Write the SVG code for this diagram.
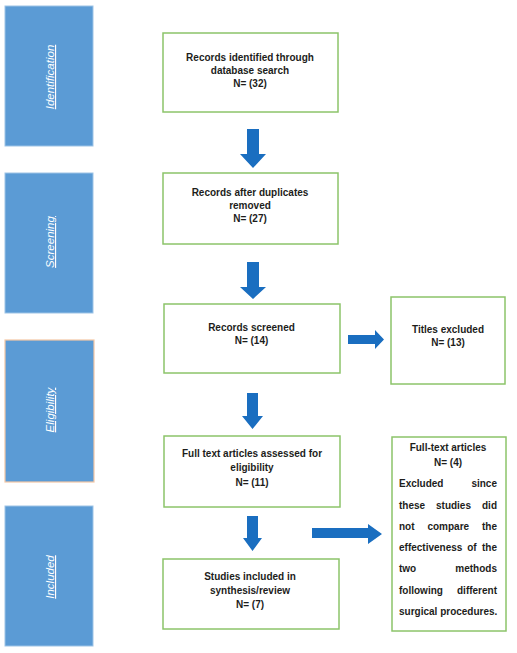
<svg xmlns="http://www.w3.org/2000/svg" width="517" height="653" viewBox="0 0 517 653">
<defs>
<style>
.stage{fill:#5b9bd5;stroke:#9dc3e6;stroke-width:1}
.stage-e{fill:#5b9bd5;stroke:#f4c7a5;stroke-width:1.2}
.slabel{font-family:"Liberation Sans",Arial,sans-serif;font-size:11.5px;font-style:italic;fill:#ffffff;text-decoration:underline;text-anchor:middle}
.box{fill:#ffffff;stroke:#8cc46a;stroke-width:1.5}
.t{font-family:"Liberation Sans",Arial,sans-serif;font-size:10px;font-weight:bold;fill:#1d1d1b;text-anchor:middle}
.j{font-family:"Liberation Sans",Arial,sans-serif;font-size:10px;font-weight:bold;fill:#1d1d1b}
.arr{fill:#1a6ec0}
</style>
</defs>
<rect width="517" height="653" fill="#ffffff"/>

<g id="stage-identification">
<rect class="stage" x="5" y="6" width="88" height="140"/>
<text class="slabel" x="54" y="77" transform="rotate(-90 54 77)">Identification</text>
</g>
<g id="stage-screening">
<rect class="stage" x="5" y="173" width="88" height="140"/>
<text class="slabel" x="54" y="242" transform="rotate(-90 54 242)">Screening</text>
</g>
<g id="stage-eligibility">
<rect class="stage-e" x="5" y="340" width="89" height="142"/>
<text class="slabel" x="54" y="410" transform="rotate(-90 54 410)">Eligibility</text>
</g>
<g id="stage-included">
<rect class="stage" x="5" y="506" width="88" height="140"/>
<text class="slabel" x="54" y="577" transform="rotate(-90 54 577)">Included</text>
</g>

<g id="node-identified">
<rect class="box" x="163" y="33" width="175" height="79"/>
<text class="t" x="250" y="61">Records identified through</text>
<text class="t" x="250" y="74">database search</text>
<text class="t" x="250" y="87">N= (32)</text>
</g>
<g id="node-duplicates">
<rect class="box" x="163" y="173" width="175" height="71"/>
<text class="t" x="250" y="196">Records after duplicates</text>
<text class="t" x="250" y="209">removed</text>
<text class="t" x="250" y="222">N= (27)</text>
</g>
<g id="node-screened">
<rect class="box" x="164" y="304" width="176" height="69"/>
<text class="t" x="251.5" y="331">Records screened</text>
<text class="t" x="251.5" y="344">N= (14)</text>
</g>
<g id="node-titles-excluded">
<rect class="box" x="391" y="297" width="114" height="87"/>
<text class="t" x="448" y="333">Titles excluded</text>
<text class="t" x="448" y="346">N= (13)</text>
</g>
<g id="node-fulltext">
<rect class="box" x="164" y="436" width="176" height="71"/>
<text class="t" x="252" y="457">Full text articles assessed for</text>
<text class="t" x="252" y="471">eligibility</text>
<text class="t" x="252" y="486">N= (11)</text>
</g>
<g id="node-included">
<rect class="box" x="163" y="559" width="176" height="70"/>
<text class="t" x="250" y="580">Studies included in</text>
<text class="t" x="250" y="594">synthesis/review</text>
<text class="t" x="250" y="608">N= (7)</text>
</g>
<g id="node-fulltext-excluded">
<rect class="box" x="392" y="437" width="114" height="194"/>
<text class="t" x="448" y="451">Full-text articles</text>
<text class="t" x="448" y="466">N= (4)</text>
<text class="j" x="399" y="487">Excluded</text>
<text class="j" x="497" y="487" text-anchor="end">since</text>
<text class="j" x="399" y="508.5">these</text>
<text class="j" x="453.5" y="508.5" text-anchor="middle">studies</text>
<text class="j" x="497" y="508.5" text-anchor="end">did</text>
<text class="j" x="399" y="530">not</text>
<text class="j" x="448.3" y="530" text-anchor="middle">compare</text>
<text class="j" x="497" y="530" text-anchor="end">the</text>
<text class="j" x="399" y="551">effectiveness</text>
<text class="j" x="472" y="551" text-anchor="middle">of</text>
<text class="j" x="497" y="551" text-anchor="end">the</text>
<text class="j" x="399" y="572">two</text>
<text class="j" x="497" y="572" text-anchor="end">methods</text>
<text class="j" x="399" y="593.5">following</text>
<text class="j" x="497" y="593.5" text-anchor="end">different</text>
<text class="j" x="399" y="615">surgical procedures.</text>
</g>

<g id="connectors">
<polygon class="arr" points="247,129 259,129 259,154 266,154 253,168 240,154 247,154"/>
<polygon class="arr" points="247,262 259,262 259,287 266,287 253,299 240,287 247,287"/>
<polygon class="arr" points="247,393 258,393 258,416 263,416 252.5,429 242,416 247,416"/>
<polygon class="arr" points="247,516 258,516 258,538 262,538 252.5,551 243,538 247,538"/>
<polygon class="arr" points="348,335 375,335 375,330 384,339.5 375,349 375,344 348,344"/>
<polygon class="arr" points="312,528 368,528 368,524 382,534 368,544 368,538 312,538"/>
</g>
</svg>
